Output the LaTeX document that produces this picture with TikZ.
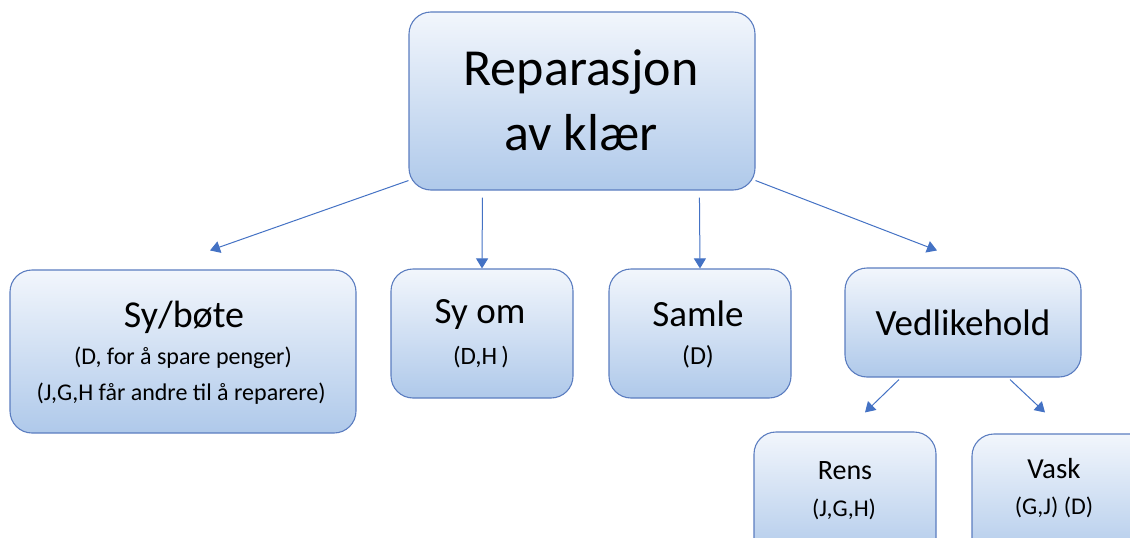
\documentclass[tikz,border=0pt]{standalone}
\usepackage{fontspec}
\setmainfont{Carlito}
\usetikzlibrary{arrows.meta,calc}
\definecolor{boxline}{HTML}{5B7DC0}
\definecolor{boxtop}{HTML}{F2F6FC}
\definecolor{boxbot}{HTML}{AFC9EA}
\definecolor{arrowblue}{HTML}{4472C4}
\tikzset{
  box/.style={draw=boxline, line width=1.1pt, rounded corners=22pt,
    top color=boxtop, bottom color=boxbot, inner sep=0pt},
  arr/.style={draw=arrowblue, line width=1pt,
    -{Triangle[width=12pt,length=10pt]}},
  txt/.style={inner sep=0pt, anchor=center}
}
\newcommand{\fs}[1]{\fontsize{#1}{#1}\selectfont}
\begin{document}
\begin{tikzpicture}[x=1pt,y=-1pt]
\useasboundingbox (0,0) rectangle (1130,538);
\clip (0,0) rectangle (1130,538);
% boxes
\node[box, minimum width=346pt, minimum height=178pt] (top) at (582,101) {};
\node[box, minimum width=346pt, minimum height=163pt] (sybote) at (183,351.5) {};
\node[box, minimum width=182pt, minimum height=129pt] (syom) at (482,333.5) {};
\node[box, minimum width=182pt, minimum height=129pt] (samle) at (700,333.5) {};
\node[box, minimum width=236pt, minimum height=109pt] (vedl) at (963,322.5) {};
\node[box, minimum width=182pt, minimum height=130pt] (rens) at (845,497) {};
\node[box, minimum width=182pt, minimum height=130pt] (vask) at (1063,499) {};
% labels
\node[txt, font=\fs{52}] (t1) at (581,72) {Reparasjon};
\node[txt, font=\fs{52}] (t2) at (581,133) {av klær};
\node[txt, font=\fs{38}] (s1) at (184,317) {Sy/bøte};
\node[txt, font=\fs{24}] (s2) at (183,358) {(D, for å spare penger)};
\node[txt, font=\fs{24}] (s3) at (181,394) {(J,G,H får andre til å reparere)};
\node[txt, font=\fs{37}] (o1) at (480,314) {Sy om};
\node[txt, font=\fs{25}] (o2) at (481,357) {(D,H\,)};
\node[txt, font=\fs{37}] (m1) at (698,314) {Samle};
\node[txt, font=\fs{26}] (m2) at (698,357) {(D)};
\node[txt, font=\fs{37}] (v1) at (963,323) {Vedlikehold};
\node[txt, font=\fs{28}] (r1) at (845,471) {Rens};
\node[txt, font=\fs{24}] (r2) at (844,509) {(J,G,H)};
\node[txt, font=\fs{29}] (k1) at (1054,469) {Vask};
\node[txt, font=\fs{24}] (k2) at (1054,507) {(G,J) (D)};
% connectors
\draw[arr] ($(top.south west)+(0,-10)$) -- ($(sybote.north)+(27,-19)$);
\draw[arr] ($(top.south west)+(74,7)$) -- (syom.north);
\draw[arr] ($(top.south west)+(291,7)$) -- (samle.north);
\draw[arr] ($(top.south east)+(0,-10)$) -- ($(vedl.north)+(-26,-17)$);
\draw[arr] ($(vedl.south)+(-64,2)$) -- ($(rens.north)+(20,-19)$);
\draw[arr] ($(vedl.south)+(47,2)$) -- ($(rens.north)+(200,-19)$);
\end{tikzpicture}
\end{document}
